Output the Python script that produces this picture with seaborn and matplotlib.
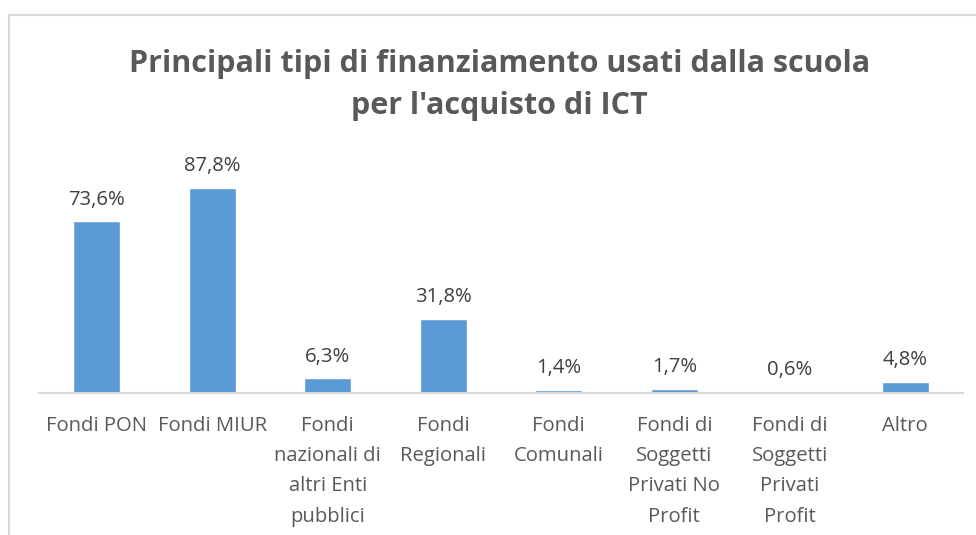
"""
Bar chart: main funding types used by schools to buy ICT.
"""

import matplotlib.pyplot as plt
import matplotlib.patches as mpatches
import pandas as pd
import seaborn as sns

# --- Data ---
CATEGORIES = [
    "Fondi PON",
    "Fondi MIUR",
    "Fondi\nnazionali di\naltri Enti\npubblici",
    "Fondi\nRegionali",
    "Fondi\nComunali",
    "Fondi di\nSoggetti\nPrivati No\nProfit",
    "Fondi di\nSoggetti\nPrivati\nProfit",
    "Altro",
]
PERCENTAGES = [73.6, 87.8, 6.3, 31.8, 1.4, 1.7, 0.6, 4.8]

TITLE = "Principali tipi di finanziamento usati dalla scuola\nper l'acquisto di ICT"
BAR_COLOR = "#5B9BD5"
TEXT_COLOR = "#595959"


def main():
    sns.set_style("white")
    plt.rcParams["font.family"] = ["Open Sans", "DejaVu Sans"]

    df = pd.DataFrame({"categoria": CATEGORIES, "valore": PERCENTAGES})

    fig = plt.figure(figsize=(9.76, 5.35), dpi=100)
    ax = fig.add_axes((0.040, 0.2654, 0.9467, 0.436))

    sns.barplot(data=df, x="categoria", y="valore", color=BAR_COLOR,
                width=0.41, ax=ax, saturation=1)

    ax.set_ylim(0, 100)
    ax.set_xlim(-0.5, len(CATEGORIES) - 0.5)
    ax.set_xlabel(None)
    ax.set_ylabel(None)
    ax.set_yticks([])
    for side in ["top", "left", "right"]:
        ax.spines[side].set_visible(False)
    ax.spines["bottom"].set_color("#D9D9D9")
    ax.spines["bottom"].set_linewidth(1.5)
    ax.tick_params(axis="x", length=0, pad=16.5, labelsize=14.6,
                   labelcolor=TEXT_COLOR)
    for lbl in ax.get_xticklabels():
        lbl.set_linespacing(1.68)
        lbl.set_verticalalignment("top")

    # data labels, Italian decimal comma
    for i, v in enumerate(PERCENTAGES):
        ax.annotate(f"{v:.1f}%".replace(".", ","), (i, v),
                    xytext=(0, 8.5), textcoords="offset points",
                    ha="center", va="bottom", fontsize=14.6, color="#404040")

    fig.text(0.512, 0.841, TITLE, ha="center", va="center",
             fontsize=22, fontweight="bold", color=TEXT_COLOR,
             linespacing=1.52)

    # chart-area border (cropped at right and bottom)
    border = mpatches.Rectangle((9 / 976, -0.05), 1.2, 1 - 15 / 535 + 0.05,
                                transform=fig.transFigure, fill=False,
                                edgecolor="#D9D9D9", linewidth=1.5,
                                clip_on=False)
    fig.patches.append(border)

    fig.savefig("out.png", dpi=100)
    plt.close(fig)


if __name__ == "__main__":
    main()
